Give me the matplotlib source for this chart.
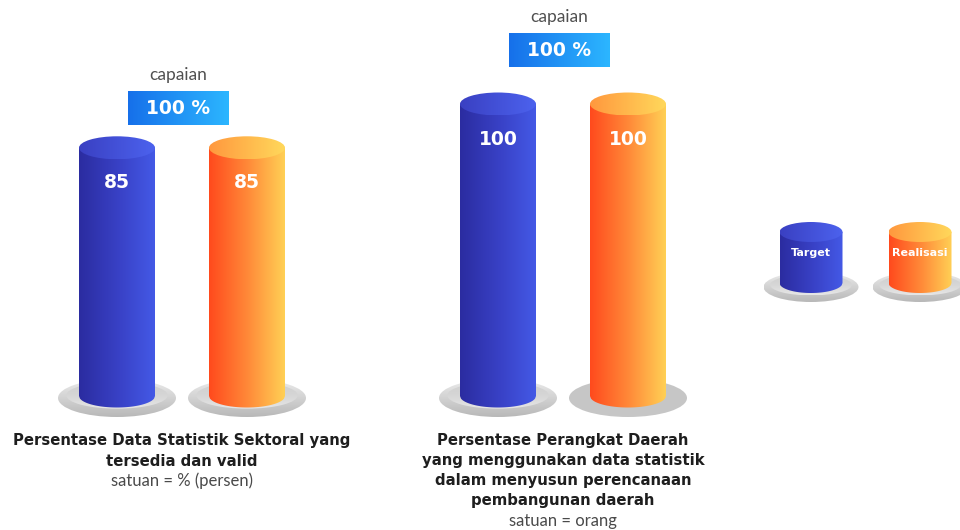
import numpy as np
import matplotlib.pyplot as plt
from matplotlib.colors import LinearSegmentedColormap
from matplotlib.patches import Ellipse, Rectangle, PathPatch
from matplotlib.path import Path

# data
indikator = ['Persentase Data Statistik Sektoral yang\ntersedia dan valid',
             'Persentase Perangkat Daerah\nyang menggunakan data statistik\ndalam menyusun perencanaan\npembangunan daerah']
satuan = ['satuan = % (persen)', 'satuan = orang']
target = [85, 100]
realisasi = [85, 100]
capaian = [100, 100]
seri = ['Target', 'Realisasi']

# layout (pixels)
W, H = 960, 530
base_px = 396
k = 2.92  # pixel per unit
grp_x = [182, 563]
box_y = [108, 50]
cyl_w = 76
gap = 65


def py(p):
    # pixel row -> axis units
    return (base_px - p) / k


blue_side = LinearSegmentedColormap.from_list('bs', ['#2b2ca0', '#3840c4', '#4459e6'])
blue_top = LinearSegmentedColormap.from_list('bt', ['#3a40c2', '#4c62ee'])
orng_side = LinearSegmentedColormap.from_list('os', ['#ff4a1d', '#ff8838', '#ffd055'])
orng_top = LinearSegmentedColormap.from_list('ot', ['#ff983e', '#ffd85b'])
plate_cm = LinearSegmentedColormap.from_list('pl', ['#b8b8b8', '#d2d2d2', '#ececec'])
dish_cm = LinearSegmentedColormap.from_list('dl', ['#e6e6e6', '#d6d6d6', '#cfcfcf'])
box_cm = LinearSegmentedColormap.from_list('bx', ['#1670ea', '#2cb6ff'])

fig = plt.figure(figsize=(9.6, 5.3), dpi=100)
ax = fig.add_axes([0, 0, 1, 1])


def grad_fill(patch, cmap, extent, z, vertical=False):
    g = np.linspace(0, 1, 256).reshape(1, -1)
    if vertical:
        g = g.T
    patch.set_facecolor('none')
    patch.set_edgecolor('none')
    ax.add_patch(patch)
    im = ax.imshow(g, cmap=cmap, extent=extent, aspect='auto', zorder=z,
                   interpolation='bicubic', origin='lower')
    im.set_clip_path(patch)


def plate(xc, yc, w, h, flat=False):
    if flat:
        ax.add_patch(Ellipse((xc, yc), w, h, facecolor='#c6c6c6', edgecolor='none', zorder=1))
        return
    e = Ellipse((xc, yc), w, h)
    grad_fill(e, plate_cm, (xc - w / 2, xc + w / 2, yc - h / 2, yc + h / 2), 1, vertical=True)
    w2, h2 = w * 0.86, h * 0.7
    d = Ellipse((xc, yc + h * 0.07), w2, h2)
    grad_fill(d, dish_cm, (xc - w2 / 2, xc + w2 / 2, yc + h * 0.07 - h2 / 2,
                           yc + h * 0.07 + h2 / 2), 1.5, vertical=True)


def cylinder(xc, w, y0, y1, eh, side, top):
    x0, x1 = xc - w / 2, xc + w / 2
    xs = np.linspace(x0, x1, 80)
    ys = y0 - eh / 2 * np.sqrt(np.clip(1 - ((xs - xc) / (w / 2)) ** 2, 0, 1))
    verts = [(x0, y1)] + list(zip(xs, ys)) + [(x1, y1), (x0, y1)]
    codes = [Path.MOVETO] + [Path.LINETO] * (len(verts) - 2) + [Path.CLOSEPOLY]
    body = PathPatch(Path(verts, codes))
    grad_fill(body, side, (x0, x1, y0 - eh, y1), 2)
    cap = Ellipse((xc, y1), w, eh)
    grad_fill(cap, top, (x0, x1, y1 - eh / 2, y1 + eh / 2), 3)


eh = 23 / k
for i in range(len(indikator)):
    for j, (vals, side, top) in enumerate([(target, blue_side, blue_top),
                                           (realisasi, orng_side, orng_top)]):
        xc = grp_x[i] + (j * 2 - 1) * gap
        plate(xc, py(398), 118, 38 / k, flat=(i == 1 and j == 1))
        cylinder(xc, cyl_w, 0, vals[i], eh, side, top)
        ax.text(xc, vals[i] - 12, f'{vals[i]}', ha='center', va='center', color='white',
                fontsize=13.5, fontweight='bold', zorder=5)

    # capaian box
    bx = grp_x[i] - 4
    r = Rectangle((bx - 50.5, py(box_y[i] + 17.5)), 101, 35 / k)
    grad_fill(r, box_cm, (bx - 50.5, bx + 50.5, py(box_y[i] + 17.5), py(box_y[i] - 17.5)), 4)
    ax.text(bx, py(box_y[i]), f'{capaian[i]} %', ha='center', va='center', color='white',
            fontsize=13.5, fontweight='bold', zorder=5)
    ax.text(bx, py(box_y[i] - 33), 'capaian', ha='center', va='center', color='#505050',
            fontsize=12.5, family='Lato', zorder=5)

    # caption
    lines = indikator[i].split('\n')
    for n, line in enumerate(lines):
        ax.text(grp_x[i], py(441 + 20 * n), line, ha='center', va='center', color='#1e1e1e',
                fontsize=10.7, fontweight='bold', zorder=5)
    ax.text(grp_x[i], py(441 + 20 * len(lines)), satuan[i], ha='center', va='center',
            color='#4a4a4a', fontsize=12, family='Lato', zorder=5)

# legend cylinders
for j, (name, side, top) in enumerate([(seri[0], blue_side, blue_top),
                                       (seri[1], orng_side, orng_top)]):
    xc = 811 + j * 109
    plate(xc, py(287), 95, 30 / k)
    cylinder(xc, 63, py(283), py(232), 20 / k, side, top)
    ax.text(xc, py(253), name, ha='center', va='center', color='white',
            fontsize=8, fontweight='bold', zorder=5)

ax.set_xlim(0, W)
ax.set_ylim(py(H), py(0))
ax.axis('off')

fig.savefig('out.png', dpi=100, facecolor='white')
